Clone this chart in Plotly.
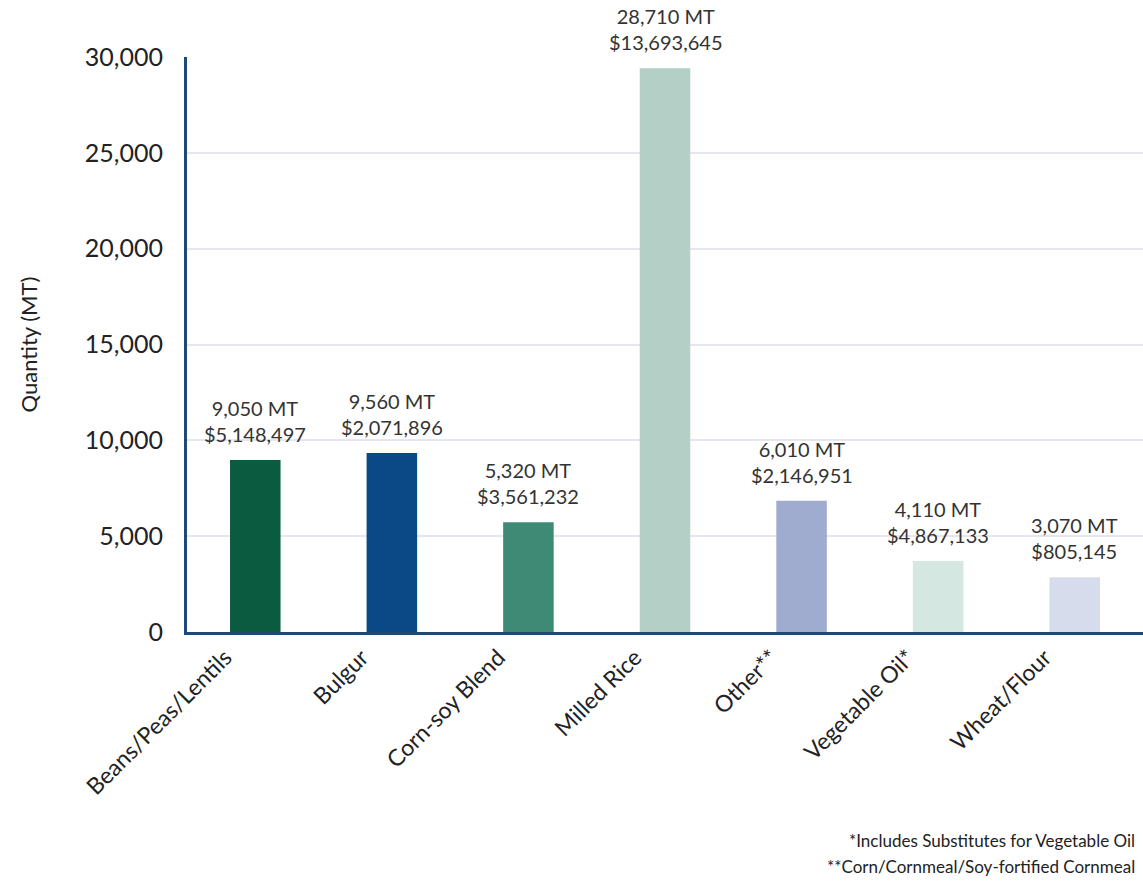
import plotly.graph_objects as go

categories = ["Beans/Peas/Lentils", "Bulgur", "Corn-soy Blend", "Milled Rice",
              "Other**", "Vegetable Oil*", "Wheat/Flour"]
# bar heights as drawn in the picture (MT)
quantities = [8975, 9340, 5720, 29410, 6850, 3700, 2860]
# printed labels
mt_labels = ["9,050 MT", "9,560 MT", "5,320 MT", "28,710 MT", "6,010 MT", "4,110 MT", "3,070 MT"]
usd_labels = ["$5,148,497", "$2,071,896", "$3,561,232", "$13,693,645", "$2,146,951",
              "$4,867,133", "$805,145"]
colors = ["#0b5b40", "#0b4986", "#3f8a74", "#b4d0c6", "#9facd0", "#d4e7e0", "#d6dcec"]
y_ticks = [0, 5000, 10000, 15000, 20000, 25000, 30000]
footnotes = ["*Includes Substitutes for Vegetable Oil",
             "**Corn/Cornmeal/Soy-fortified Cornmeal"]

FONT = "Lato"

fig = go.Figure()
fig.add_trace(go.Bar(
    x=categories,
    y=quantities,
    marker=dict(color=colors, line=dict(width=0)),
    width=0.37,
    hoverinfo="skip",
))

for c, q, a, b in zip(categories, quantities, mt_labels, usd_labels):
    fig.add_annotation(
        x=c, y=q, xref="x", yref="y", text=f"{a}<br>{b}",
        showarrow=False, xanchor="center", yanchor="bottom", yshift=12,
        font=dict(family=FONT, size=20, color="#333333"),
    )

fig.update_layout(
    width=1143, height=888,
    margin=dict(l=187, r=0, t=57, b=256),
    paper_bgcolor="white", plot_bgcolor="white",
    showlegend=False,
    font=dict(family=FONT, color="#222222"),
)
fig.update_xaxes(
    showline=True, linecolor="#1d4a78", linewidth=3,
    tickangle=-45, tickfont=dict(family=FONT, size=23, color="#222222"),
    ticks="", showgrid=False, ticklabelshift=-30,
)
fig.update_yaxes(
    range=[0, 30000], tickvals=y_ticks, tickformat=",",
    showline=True, linecolor="#1d4a78", linewidth=3,
    showgrid=True, gridcolor="#e6e6ef", gridwidth=2,
    zeroline=False,
    tickfont=dict(family=FONT, size=25, color="#222222"),
    ticklabelstandoff=16,
    title=dict(text="Quantity (MT)", font=dict(family=FONT, size=22, color="#222222"), standoff=42),
)

for i, t in enumerate(footnotes):
    fig.add_annotation(
        text=t, xref="paper", yref="paper", x=1, y=0,
        xanchor="right", yanchor="middle", showarrow=False,
        xshift=-6, yshift=-(840 - 632) - 26 * i,
        font=dict(family=FONT, size=17, color="#222222"),
    )

fig.write_html("out.html")
